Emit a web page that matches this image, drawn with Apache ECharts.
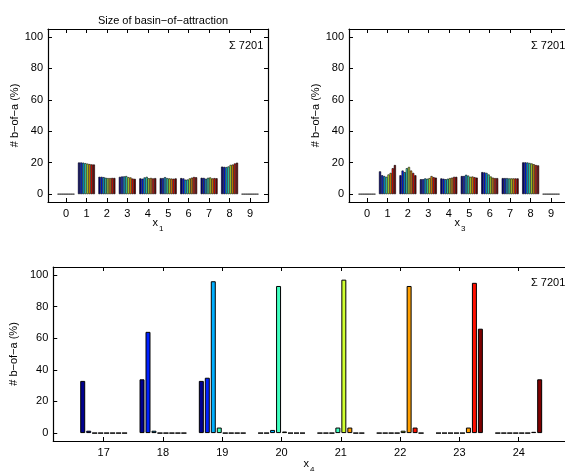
<!DOCTYPE html>
<html>
<head>
<meta charset="utf-8">
<script src="https://cdn.jsdelivr.net/npm/echarts@6/dist/echarts.min.js"></script>
<style>
html, body { margin: 0; background: #fff; }
#main { width: 565px; height: 471px; }
</style>
</head>
<body>
<div id="main"></div>
<script>
// 8 runs, coloured with jet
var seriesColors = ['#00008f', '#0020ff', '#00afff', '#40ffbf', '#cfff30', '#ff9f00', '#ff1000', '#800000'];
var yTicks = [0, 20, 40, 60, 80, 100];

// x1: one row per value 0..9, 8 runs per row
var x1Cats = [0, 1, 2, 3, 4, 5, 6, 7, 8, 9];
var x1Values = [
    [0, 0, 0, 0, 0, 0, 0, 0],
    [20.1, 20.1, 20.0, 19.7, 19.4, 19.1, 18.9, 18.8],
    [11.0, 11.0, 10.8, 10.4, 10.2, 10.2, 10.3, 10.3],
    [11.0, 11.2, 11.3, 11.5, 10.8, 10.6, 9.9, 9.7],
    [10.0, 9.8, 10.6, 11.0, 10.1, 10.3, 10.0, 10.2],
    [10.2, 10.2, 10.8, 10.2, 10.0, 9.9, 9.8, 10.0],
    [10.2, 10.0, 9.2, 9.3, 10.0, 10.5, 10.9, 10.7],
    [10.4, 10.3, 9.8, 10.4, 10.6, 10.0, 10.2, 10.1],
    [17.5, 17.3, 17.2, 17.6, 18.6, 18.8, 19.5, 20.0],
    [0, 0, 0, 0, 0, 0, 0, 0]
];

// x3
var x3Cats = [0, 1, 2, 3, 4, 5, 6, 7, 8, 9];
var x3Values = [
    [0, 0, 0, 0, 0, 0, 0, 0],
    [14.5, 12.0, 11.5, 11.0, 12.5, 13.5, 16.5, 18.5],
    [12.0, 15.0, 14.0, 16.5, 17.3, 15.0, 13.5, 12.0],
    [9.5, 9.5, 10.0, 9.8, 10.2, 11.5, 10.8, 10.5],
    [10.0, 9.8, 9.5, 9.8, 10.2, 10.5, 11.0, 11.0],
    [11.5, 11.5, 12.3, 11.8, 11.0, 11.2, 10.8, 10.5],
    [14.0, 13.8, 13.5, 12.5, 11.2, 10.5, 10.2, 10.2],
    [10.2, 10.2, 10.2, 10.0, 10.0, 10.0, 10.0, 10.0],
    [20.2, 20.2, 20.1, 19.8, 19.5, 19.0, 18.5, 18.3],
    [0, 0, 0, 0, 0, 0, 0, 0]
];

// x4
var x4Cats = [17, 18, 19, 20, 21, 22, 23, 24];
var x4Values = [
    [33, 1.5, 0, 0, 0, 0, 0, 0],
    [34, 64, 1.5, 0, 0, 0, 0, 0],
    [33, 35, 96, 3.5, 0, 0, 0, 0],
    [0, 0, 2, 93, 1, 0, 0, 0],
    [0, 0, 0, 3.5, 97, 3.5, 0, 0],
    [0, 0, 0, 0, 1.5, 93, 3.5, 0],
    [0, 0, 0, 0, 0, 3.5, 95, 66],
    [0, 0, 0, 0, 0, 0, 0.8, 34]
];

// the two right-hand boxes run past the edge of the figure, so their right side is not drawn
var panels = [
    { cats: x1Cats, values: x1Values, xmin: -0.88, xmax: 9.88, grid: { left: 48, top: 29, right: 297, height: 173 }, gap: '17%', barGap: '0%', border: 0.6, cut: false },
    { cats: x3Cats, values: x3Values, xmin: -0.88, xmax: 9.68, grid: { left: 349, top: 29, right: 0, height: 173 }, gap: '17%', barGap: '0%', border: 0.6, cut: true },
    { cats: x4Cats, values: x4Values, xmin: 16.15, xmax: 24.78, grid: { left: 48, top: 267, right: 0, height: 174 }, gap: '21%', barGap: '20%', border: 1, cut: true }
];

var font = 'Liberation Sans, Arial, sans-serif';
var axisLineStyle = { color: '#000', width: 1.2 };

var grids = [], xAxes = [], yAxes = [], series = [];
panels.forEach(function (p, g) {
    grids.push(p.grid);
    ['bottom', 'top'].forEach(function (pos) {
        xAxes.push({
            type: 'value', gridIndex: g, position: pos, min: p.xmin, max: p.xmax,
            axisLine: { show: true, onZero: false, lineStyle: axisLineStyle }, splitLine: { show: false },
            axisTick: { show: true, inside: true, length: 4, lineStyle: { color: '#000' }, customValues: p.cats },
            axisLabel: { show: pos === 'bottom', customValues: p.cats, color: '#000', fontSize: 11, fontFamily: font, margin: 6 }
        });
    });
    ['left', 'right'].forEach(function (pos) {
        var visible = pos === 'left' || !p.cut;
        yAxes.push({
            type: 'value', gridIndex: g, position: pos, min: -5, max: 105,
            name: pos === 'left' ? '# b\u2212of\u2212a (%)' : '',
            nameLocation: 'middle', nameGap: 27,
            nameTextStyle: { color: '#000', fontSize: 11, fontFamily: font },
            axisLine: { show: visible, onZero: false, lineStyle: axisLineStyle }, splitLine: { show: false },
            axisTick: { show: visible, inside: true, length: 4, lineStyle: { color: '#000' }, customValues: yTicks },
            axisLabel: { show: pos === 'left', customValues: yTicks, color: '#000', fontSize: 11, fontFamily: font, margin: 5 }
        });
    });
    for (var k = 0; k < 8; k++) {
        series.push({
            type: 'bar', xAxisIndex: g * 2, yAxisIndex: g * 2, silent: true,
            barGap: p.barGap, barCategoryGap: p.gap,
            itemStyle: { color: seriesColors[k], borderColor: '#000', borderWidth: p.border },
            data: p.cats.map(function (c, i) { return [c, p.values[i][k]]; })
        });
    }
});

function label(x, y, main, sub) {
    return [
        { type: 'text', x: x, y: y, style: { text: main, font: '11px ' + font, fill: '#000', textAlign: 'right', textVerticalAlign: 'middle' } },
        { type: 'text', x: x + 1, y: y + 6, style: { text: sub, font: '8px ' + font, fill: '#000', textAlign: 'left', textVerticalAlign: 'middle' } }
    ];
}

var sigma = function (x, y) {
    return { type: 'text', x: x, y: y, style: { text: '\u03a3 7201', font: '11px ' + font, fill: '#000', textAlign: 'left', textVerticalAlign: 'middle' } };
};

var myChart = echarts.init(document.getElementById('main'));
var option = {
    animation: false,
    title: {
        text: 'Size of basin\u2212of\u2212attraction',
        left: 158, top: 10, textAlign: 'center',
        textStyle: { fontSize: 11, fontWeight: 'normal', color: '#000', fontFamily: font }
    },
    grid: grids,
    xAxis: xAxes,
    yAxis: yAxes,
    series: series,
    graphic: [].concat(
        label(158, 223, 'x', '1'),
        label(460, 223, 'x', '3'),
        label(309, 464, 'x', '4'),
        [sigma(229, 46), sigma(531, 46), sigma(531, 283)]
    )
};
myChart.setOption(option);
</script>
</body>
</html>
